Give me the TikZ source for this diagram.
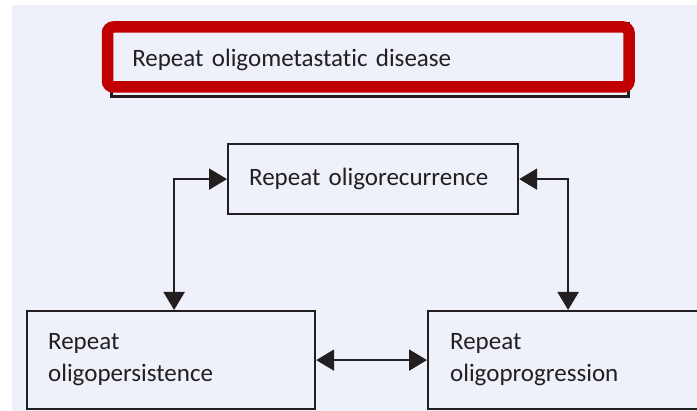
\documentclass[tikz,border=0pt]{standalone}
\usepackage{fontspec}
\setmainfont[Ligatures={NoCommon,NoContextual}, WordSpace=0.75]{Carlito}
\usepackage{xcolor}
\usepackage{tikz}
\usetikzlibrary{arrows.meta,positioning,calc}

\definecolor{pagebg}{RGB}{238,241,249}
\definecolor{inkcol}{RGB}{35,31,32}
\definecolor{hilite}{RGB}{192,0,0}

\tikzset{
  stagebox/.style={draw=inkcol, line width=2.2pt, anchor=north west, align=left,
    inner xsep=21pt, inner ysep=0pt, text=inkcol, font=\fontsize{25}{32}\selectfont},
  link/.style={draw=inkcol, line width=2.2pt, {Triangle[length=18pt,width=21pt]}-{Triangle[length=18pt,width=21pt]}}
}

\begin{document}
\begin{tikzpicture}[x=1pt, y=-1pt]
\useasboundingbox (0,0) rectangle (697,411);
\clip (0,0) rectangle (697,411);
\fill[pagebg] (12,5) rectangle (697,411);

% heading box with its red highlight
\node (title) [stagebox, line width=2.5pt, text width=475pt, minimum height=73.5pt] at (110,22) {Repeat oligometastatic disease};
\draw[hilite, line width=11.5pt, rounded corners=6pt] (107.5,27) rectangle (629,87);

% the three states
\node (recur) [stagebox, text width=248pt, minimum height=70pt] at (227,143) {Repeat oligorecurrence};
\node (persist) [stagebox, text width=246pt, minimum height=98pt] at (26,310) {Repeat\\oligopersistence};
\node (progress) [stagebox, inner xsep=22pt, text width=244pt, minimum height=98pt] at (427,310) {Repeat\\oligoprogression};

\draw[link] (recur.west) -| ([xshift=3pt]persist.north);
\draw[link] (recur.east) -| ([xshift=-4pt]progress.north);
\draw[link] (persist.east) -- (progress.west);
\end{tikzpicture}
\end{document}
